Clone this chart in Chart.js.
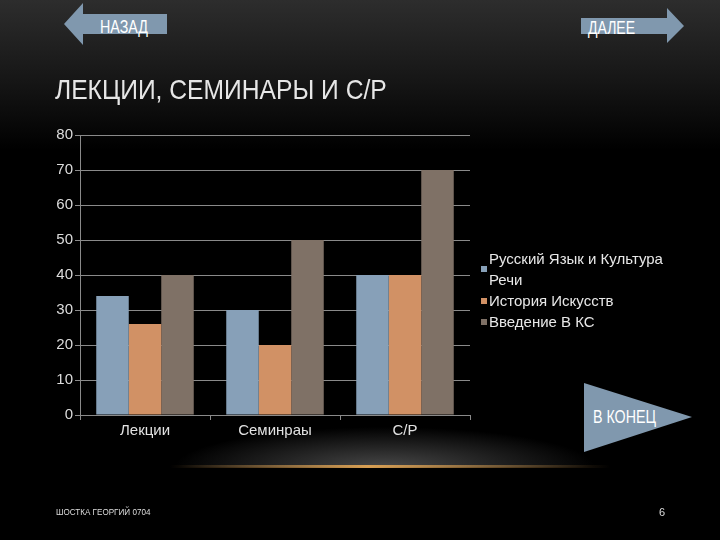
<!DOCTYPE html>
<html>
<head>
<meta charset="utf-8">
<script src="https://cdn.jsdelivr.net/npm/chart.js@4"></script>
<style>
  html, body { margin: 0; padding: 0; }
  body {
    width: 720px; height: 540px; overflow: hidden; position: relative;
    font-family: "Liberation Sans", Arial, sans-serif;
    background: linear-gradient(to bottom, #2d2d2d 0px, #161616 80px, #000 150px, #000 540px);
  }
  #haze {
    position: absolute; left: 150px; top: 425px; width: 470px; height: 42px;
    background: radial-gradient(ellipse 210px 40px at 235px 42px, rgba(95,95,95,0.75), rgba(0,0,0,0) 100%);
  }
  #glow {
    position: absolute; left: 170px; top: 465px; width: 440px; height: 3px;
    background: linear-gradient(to right, rgba(200,140,60,0), rgba(225,165,85,0.95) 45%, rgba(200,140,60,0));
    filter: blur(0.6px);
  }
  #title {
    position: absolute; left: 55px; top: 74px; color: #e6e6e6;
    font-size: 28px; white-space: nowrap;
    transform: scaleX(0.88); transform-origin: left top;
  }
  #footer {
    position: absolute; left: 56px; top: 507px; color: #ddd; font-size: 9px; white-space: nowrap;
    transform: scaleX(0.9); transform-origin: left top;
  }
  #page { position: absolute; left: 659px; top: 506px; color: #ddd; font-size: 11px; }
  svg.nav { position: absolute; left: 0; top: 0; }
  #chart { position: absolute; left: 0; top: 0; }
  #legend { position: absolute; left: 481px; top: 248px; color: #e8e8e8; font-size: 15px; line-height: 21px; }
  .item { display: flex; align-items: center; }
  .box { width: 6px; height: 6px; margin-right: 2px; flex: none; }
  .txt { width: 185px; }
</style>
</head>
<body>
<div id="haze"></div>
<div id="glow"></div>
<svg class="nav" width="720" height="540">
  <polygon points="64,24 83,3 83,14 167,14 167,34 83,34 83,45" fill="#8098ae" />
  <text x="100" y="33" fill="#fff" font-size="19" textLength="48" lengthAdjust="spacingAndGlyphs" font-family="Liberation Sans">НАЗАД</text>
  <polygon points="581,18 667,18 667,8 684,26 667,43 667,34 581,34" fill="#8098ae" />
  <text x="588" y="34" fill="#fff" font-size="19" textLength="47" lengthAdjust="spacingAndGlyphs" font-family="Liberation Sans">ДАЛЕЕ</text>
  <polygon points="584,383 692,417 584,452" fill="#8098ae" />
  <text x="593" y="423" fill="#fff" font-size="19" textLength="63" lengthAdjust="spacingAndGlyphs" font-family="Liberation Sans">В КОНЕЦ</text>
</svg>
<div id="title">ЛЕКЦИИ, СЕМИНАРЫ И С/Р</div>
<canvas id="chart" width="720" height="540"></canvas>
<div id="legend"></div>
<div id="footer">ШОСТКА ГЕОРГИЙ 0704</div>
<div id="page">6</div>
<script>
const categories = ["Лекции", "Семинраы", "С/Р"];
const seriesNames = ["Русский Язык и Культура Речи", "История Искусств", "Введение В КС"];
const russianValues = [34, 30, 40];
const artValues = [26, 20, 40];
const introValues = [40, 50, 70];
const seriesColors = ["#87a0b8", "#d19165", "#7f7166"];
const yTicks = [0, 10, 20, 30, 40, 50, 60, 70, 80];

const ctx = document.getElementById("chart");
const allValues = [russianValues, artValues, introValues];

new Chart(ctx, {
  type: "bar",
  data: {
    labels: categories,
    datasets: seriesNames.map((name, i) => ({
      label: name,
      data: allValues[i],
      backgroundColor: seriesColors[i],
      borderWidth: 0,
    })),
  },
  options: {
    responsive: false,
    animation: false,
    categoryPercentage: 0.75,
    barPercentage: 1,
    layout: { padding: { left: 40, top: 135, right: 250, bottom: 95 } },
    plugins: { legend: { display: false }, tooltip: { enabled: false } },
    scales: {
      x: {
        afterFit: (scale) => { scale.height = 30; },
        grid: { offset: true, drawOnChartArea: false, tickLength: 5, color: "#8a8a8a" },
        border: { color: "#8a8a8a" },
        ticks: { color: "#e2e2e2", font: { size: 15, family: "Liberation Sans" }, padding: 2 },
      },
      y: {
        min: 0,
        max: 80,
        afterFit: (scale) => { scale.width = 40; },
        afterBuildTicks: (scale) => { scale.ticks = yTicks.map((v) => ({ value: v })); },
        grid: { color: "#8a8a8a", tickLength: 5 },
        border: { color: "#8a8a8a" },
        ticks: { color: "#dcdcdc", font: { size: 15, family: "Liberation Sans" }, padding: 2 },
      },
    },
  },
});

// legend built from the same series arrays
const legend = document.getElementById("legend");
seriesNames.forEach((name, i) => {
  const item = document.createElement("div");
  item.className = "item";
  item.innerHTML = `<div class="box" style="background:${seriesColors[i]}"></div><div class="txt">${name}</div>`;
  legend.appendChild(item);
});
</script>
</body>
</html>
